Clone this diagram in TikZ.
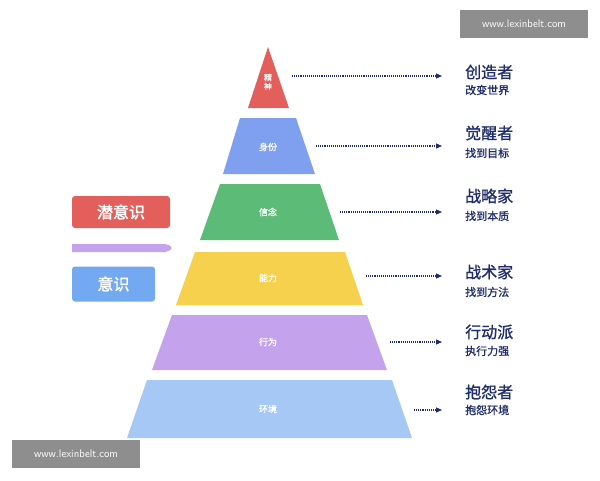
\documentclass[tikz,border=0pt]{standalone}
\usepackage{fontspec}
\newfontfamily\cjk{Noto Sans CJK SC}[FakeBold=1]
\newfontfamily\cjkb{Noto Sans CJK SC}[BoldFont=*,FakeBold=2]
\usetikzlibrary{arrows.meta}
\definecolor{dred}{HTML}{E25F5B}
\definecolor{dblue}{HTML}{7F9FEF}
\definecolor{dgreen}{HTML}{5DBB78}
\definecolor{dyel}{HTML}{F6D14E}
\definecolor{dpur}{HTML}{C4A3EC}
\definecolor{dlb}{HTML}{A5C8F5}
\definecolor{navy}{HTML}{1F2D6B}
\definecolor{wm}{HTML}{8E8E8E}
\begin{document}
\begin{tikzpicture}[x=1pt,y=-1pt,
 lvl/.style={font=\cjk\fontsize{9}{10}\selectfont,text=white},
 arr/.style={navy,densely dotted,line width=1.1pt,-{Triangle[length=6pt,width=5pt]}},
 ttl/.style={font=\cjk\fontsize{16}{17}\selectfont,text=navy,anchor=west,inner sep=0},
 sub/.style={font=\cjk\fontsize{11}{12}\selectfont,text=navy,anchor=west,inner sep=0},
 wmk/.style={fill=wm,text=white,font=\fontsize{11}{12}\selectfont\sffamily,minimum height=28pt,minimum width=128pt,inner sep=0}]
\useasboundingbox (0,0) rectangle (600,480);
\fill[white] (0,0) rectangle (600,480);
\fill[dred] (268,47) -- (289,108) -- (248,108) -- cycle;
\fill[dblue] (240,118) -- (296,118) -- (315,174) -- (223,174) -- cycle;
\fill[dgreen] (220,184) -- (320,184) -- (339,240) -- (200,240) -- cycle;
\fill[dyel] (195,252) -- (345,252) -- (363,305) -- (176,305) -- cycle;
\fill[dpur] (172,315) -- (367,315) -- (387,370) -- (152,370) -- cycle;
\fill[dlb] (147,380) -- (392,380) -- (412,438) -- (127,438) -- cycle;
\node[lvl,align=center,font=\cjk\fontsize{8}{9}\selectfont] (l1) at (268,82) {精\\神};
\node[lvl] (l2) at (268,147) {身份};
\node[lvl] (l3) at (268,212) {信念};
\node[lvl] (l4) at (268,278) {能力};
\node[lvl] (l5) at (268,342) {行为};
\node[lvl] (l6) at (268,409) {环境};
\coordinate (s1) at (292,76); \coordinate (e1) at (442,76);
\coordinate (s2) at (316,146); \coordinate (e2) at (442,146);
\coordinate (s3) at (340,212); \coordinate (e3) at (442,212);
\coordinate (s4) at (366,276); \coordinate (e4) at (442,276);
\coordinate (s5) at (390,342); \coordinate (e5) at (442,342);
\coordinate (s6) at (414,410); \coordinate (e6) at (442,410);
\foreach \i in {1,...,6} \draw[arr] (s\i) -- (e\i);
\node[ttl] (t1) at (465,72) {创造者}; \node[sub] (u1) at (465,90) {改变世界};
\node[ttl] (t2) at (465,133) {觉醒者}; \node[sub] (u2) at (465,153) {找到目标};
\node[ttl] (t3) at (465,196) {战略家}; \node[sub] (u3) at (465,216) {找到本质};
\node[ttl] (t4) at (465,272) {战术家}; \node[sub] (u4) at (465,292) {找到方法};
\node[ttl] (t5) at (465,332) {行动派}; \node[sub] (u5) at (465,351) {执行力强};
\node[ttl] (t6) at (465,392) {抱怨者}; \node[sub] (u6) at (465,410) {抱怨环境};
\node[fill=dred,rounded corners=3pt,minimum width=98pt,minimum height=32pt,text=white,font=\cjkb\bfseries\fontsize{16}{17}\selectfont] (q) at (121,212) {潜意识};
\fill[dpur] (72,244) -- (165,244) .. controls (174,246) and (174,250) .. (165,252) -- (72,252) -- cycle;
\node[fill=dblue!90!cyan,rounded corners=3pt,minimum width=83pt,minimum height=35pt,text=white,font=\cjkb\bfseries\fontsize{16}{17}\selectfont] (y) at (113.5,284) {意识};
\node[wmk] (w1) at (524,24) {www.lexinbelt.com};
\node[wmk] (w2) at (76,454) {www.lexinbelt.com};
\end{tikzpicture}
\end{document}
